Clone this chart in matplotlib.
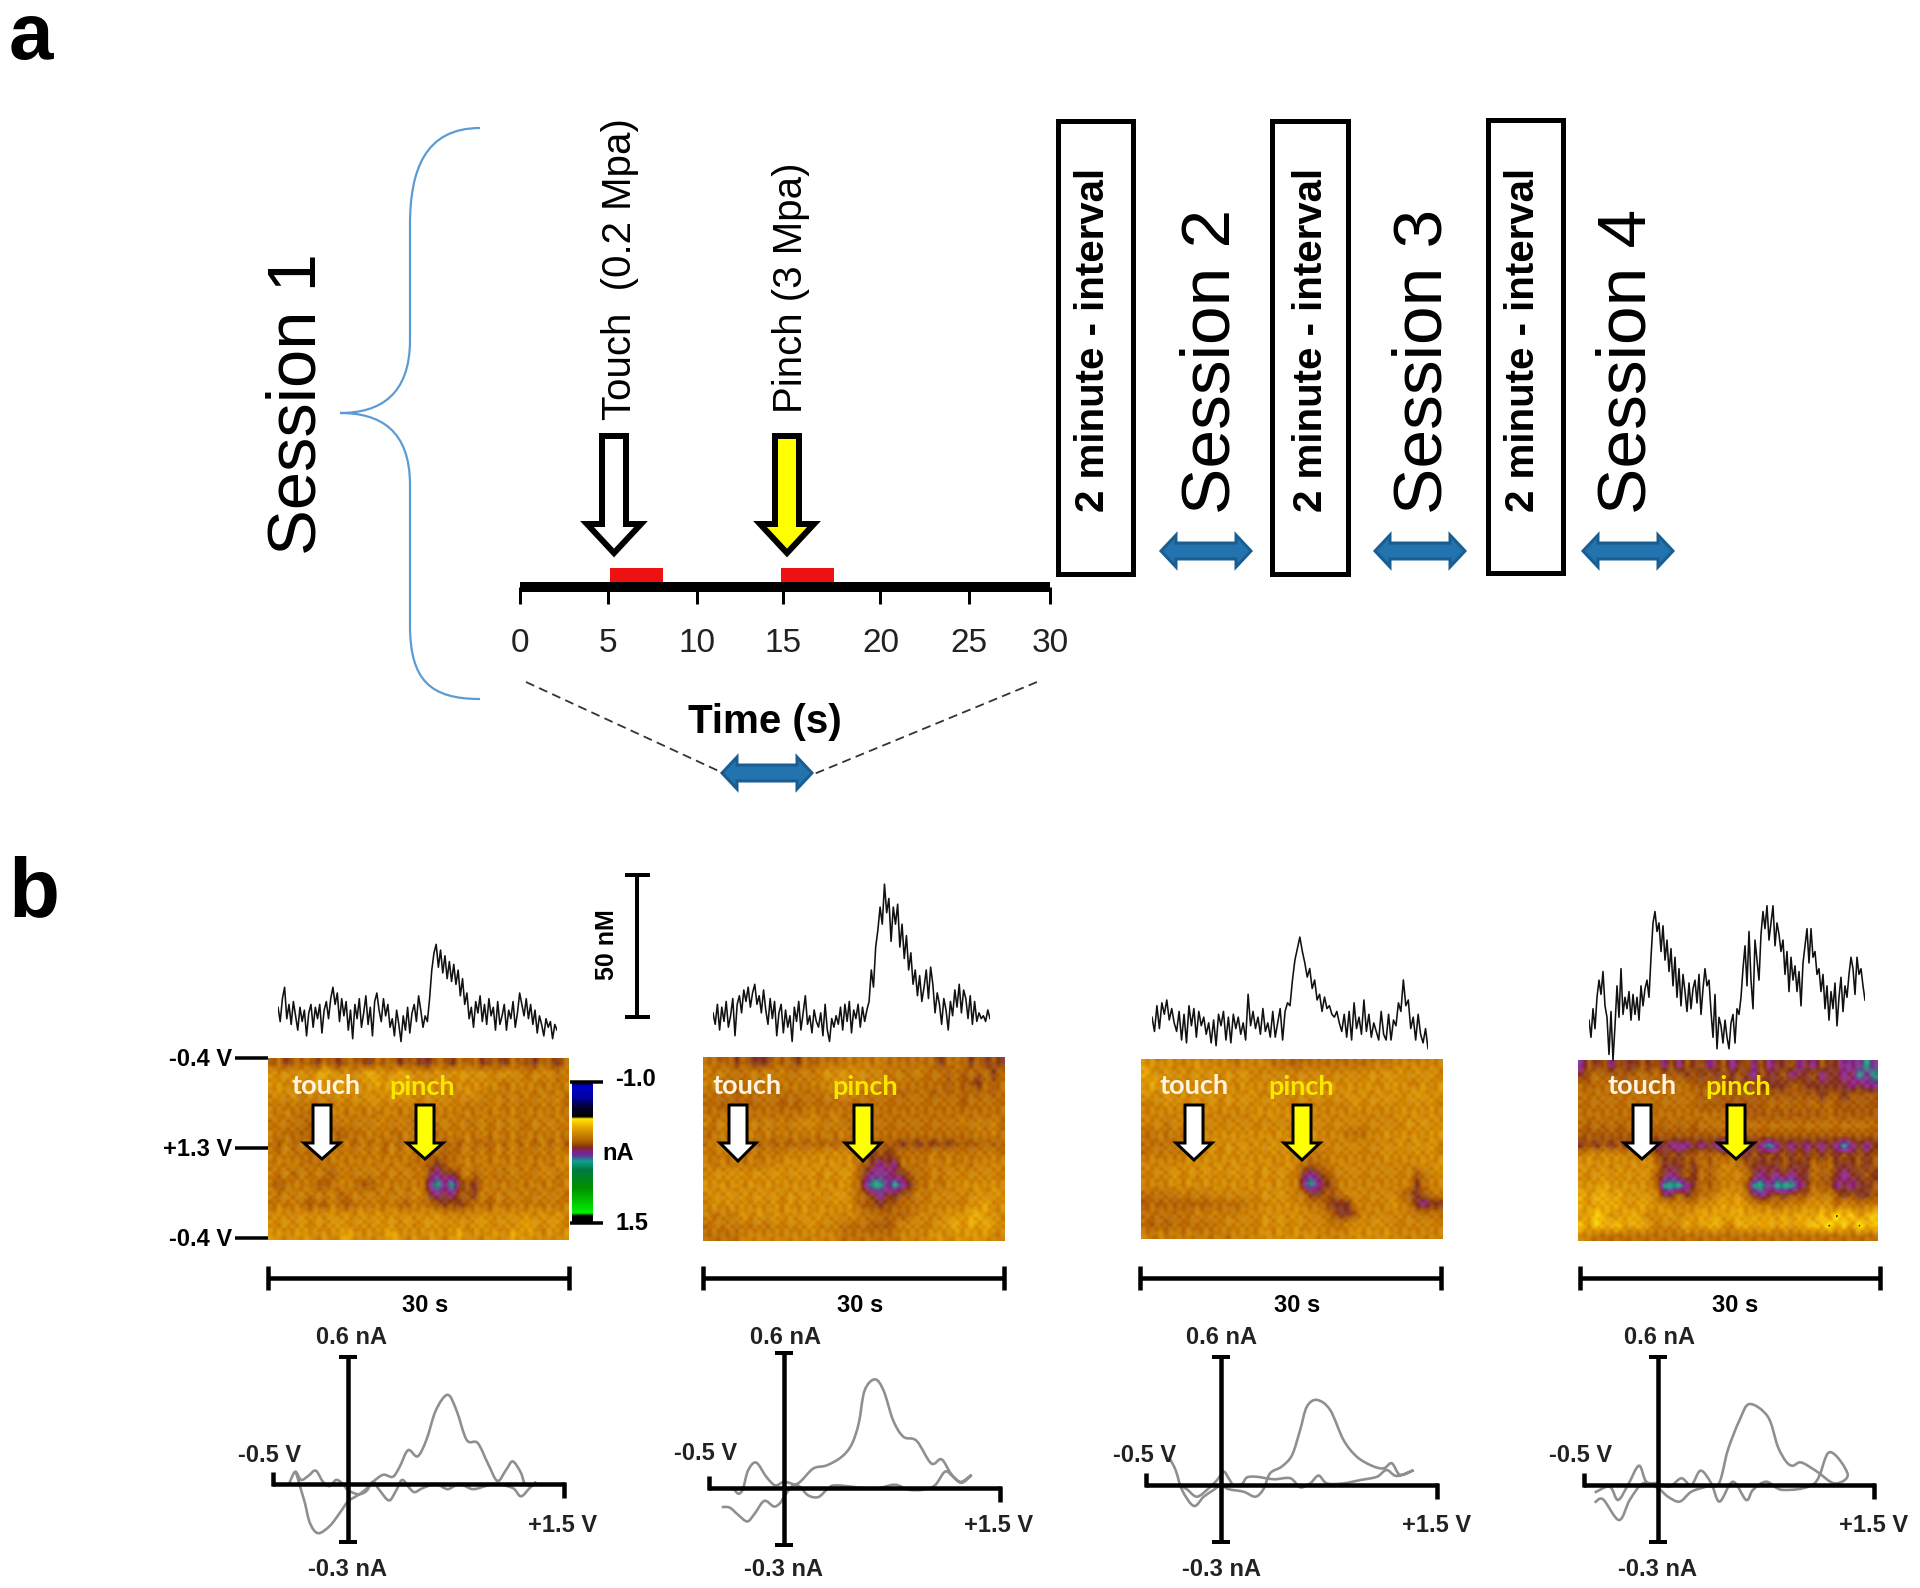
import numpy as np
import matplotlib
matplotlib.use("Agg")
import matplotlib.pyplot as plt
from matplotlib.colors import LinearSegmentedColormap, Normalize
from matplotlib.path import Path
from matplotlib.patches import PathPatch, Polygon, Rectangle

plt.rcParams['font.family'] = ['Liberation Sans', 'DejaVu Sans']

# ---------------- DATA ----------------
time_ticks = [0, 5, 10, 14.9, 20.4, 25.4, 30]
time_labels = ['0', '5', '10', '15', '20', '25', '30']
stim_start = [5.1, 14.8]
stim_length = [3.0, 2.95]

trace1 = [2,-3,5,9,-2,3,-4,4,-1,-6,2,-3,1,-8,0,3,-5,2,-2,3,-7,1,4,-2,5,9,3,7,-3,5,-1,4,-6,1,-9,3,-2,5,-5,0,6,-4,2,-8,4,7,1,-3,5,-1,3,-5,-2,-8,1,-4,-10,-1,-6,2,-7,0,3,-3,6,1,-5,-1,-3,
          5,15,21,24,16,22,14,20,12,18,11,17,10,15,6,12,3,7,-2,2,-5,4,0,6,-3,3,-4,5,-1,2,-6,4,-4,-1,3,-6,1,-2,4,-5,0,7,3,-1,5,-2,3,-4,1,-7,-1,-4,-8,-2,-5,-3,-9,-4,-6]
trace2 = [-1,-5,2,-7,1,-4,3,-6,-2,4,-9,2,5,-1,7,3,8,1,6,9,2,5,-1,7,0,-5,4,-3,3,-9,-1,2,-8,0,-6,-2,-11,1,-4,3,-7,-1,5,-5,-2,-8,0,-4,-6,-1,-9,2,-7,-11,-3,-6,-2,-5,1,-7,2,-4,3,-8,0,-3,2,-6,1,-4,0,
          3,14,8,22,28,36,30,44,34,39,24,36,30,37,22,30,18,26,14,20,9,14,5,12,3,8,14,4,15,9,-1,6,2,-5,4,0,-7,3,-2,7,1,9,-1,7,4,-3,5,-5,3,-4,-1,-3,-2,-4,0,-3]
trace3 = [1,-4,5,-3,6,2,7,0,4,-1,-4,3,-7,2,-8,5,-2,4,-6,3,-2,1,-5,-1,-8,0,-9,2,-2,3,-7,1,-8,2,-3,1,-5,-1,-7,9,-2,3,-3,1,-5,4,-4,-1,-6,3,-6,-1,4,-7,
          3,6,5,14,21,25,29,24,20,15,18,11,14,7,9,3,8,4,5,2,1,3,-1,-4,2,-6,3,-7,6,-3,1,-5,7,-4,2,-6,-1,-4,-7,3,-5,-7,2,-7,0,-2,6,3,14,5,7,-3,1,-7,2,-5,-8,-3,-10]
trace4 = [-6,-12,-2,-9,2,8,3,11,-1,-5,-18,-3,-20,-8,6,-5,12,-4,2,-2,4,-6,3,-4,2,-6,6,-1,5,8,2,16,28,32,25,28,18,27,15,22,11,19,6,16,2,12,-1,10,4,-3,7,-2,5,8,0,10,-4,5,12,6,8,-3,-12,3,-16,-5,-8,-14,-6,-12,-16,-7,-4,-14,-2,-4,2,
          12,20,6,25,8,-2,22,15,8,24,32,26,34,22,28,34,20,28,24,18,22,10,18,4,16,8,13,4,11,-1,14,20,26,14,26,16,18,10,12,4,10,-2,6,-6,4,-2,7,-8,2,9,-3,6,2,10,16,12,3,16,10,12,6,1]

cv1_v = [-.40,-.36,-.32,-.27,-.22,-.17,-.125,-.08,-.035,0,.07,.125,.17,.215,.28,.33,.37,.42,.455,.51,.60,.68,.76,.85,.94,1.01,1.125,1.18,1.24,1.285,1.25,1.205,1.18,1.125,1.08,1.02,.955,.885,.81,.74,.68,.60,.535,.475,.41,.35,.305,.24,.17,.115,.055,0,-.055,-.125,-.205,-.26,-.295,-.32,-.35,-.36]
cv1_i = [.005,.06,.02,.04,.065,.01,-.01,.02,0,-.03,-.05,-.035,.01,-.03,-.08,-.03,.02,-.02,-.04,-.02,0,-.025,0,-.025,-.01,0,-.02,-.06,-.02,.01,-.01,.005,.055,.11,.07,.015,.10,.20,.215,.36,.435,.36,.215,.135,.165,.08,.035,.045,.01,-.03,-.06,-.085,-.14,-.205,-.24,-.19,-.09,-.03,.045,.06]
cv2_v = [-.425,-.37,-.31,-.25,-.2,-.135,-.07,-.03,0,.05,.11,.2,.29,.39,.46,.51,.55,.62,.68,.745,.815,.905,1.005,1.075,1.14,1.21,1.28,1.21,1.155,1.10,1.03,.95,.85,.755,.61,.36,.30,.235,.165,.11,.065,0,-.06,-.12,-.19,-.245,-.28,-.31,-.345]
cv2_i = [-.093,-.096,-.133,-.163,-.125,-.063,-.09,-.076,-.044,.005,.03,.095,.11,.15,.21,.315,.475,.53,.475,.33,.25,.23,.12,.14,.07,.025,.065,.03,.055,.08,.013,-.008,-.008,.016,-.003,.013,-.003,-.044,-.036,.005,.018,.03,.013,.054,.124,.086,-.003,-.028,-.003]
cv3_v = [-.357,-.31,-.266,-.186,-.118,-.05,0,.05,.155,.235,.29,.335,.415,.485,.54,.586,.655,.745,.836,.927,1.03,1.11,1.166,1.223,1.314,1.2,1.13,1.064,.95,.836,.723,.666,.609,.54,.473,.36,.245,.177,.143,.086,.052,.018,-.027,-.084,-.164,-.232,-.266]
cv3_i = [.138,.073,-.024,-.102,-.057,-.024,0,-.02,-.033,-.057,-.02,.057,.09,.146,.268,.382,.415,.366,.22,.138,.094,.081,.106,.049,.073,.044,.073,.04,.024,.008,.008,.046,.008,-.011,.033,.028,.04,.037,.005,0,.033,.065,.024,-.016,-.057,-.021,-.008]
cv4_v = [-.432,-.375,-.266,-.193,-.102,0,.068,.148,.227,.33,.416,.477,.557,.625,.75,.818,.875,.92,.977,1.08,1.205,1.295,1.17,1.068,.852,.739,.648,.602,.511,.42,.364,.291,.227,.159,.08,0,-.08,-.13,-.205,-.273,-.33,-.432]
cv4_i = [-.086,-.07,-.171,-.073,.008,-.016,-.057,-.081,-.033,-.008,.008,.171,.317,.395,.333,.187,.114,.094,.11,.068,.008,.052,.16,.008,-.024,.016,-.024,-.073,.016,-.081,.008,.07,0,.033,-.008,.008,.016,.094,0,-.073,-.008,-.037]

# one digit per colour-plot cell; level_nA gives the current of each digit
level_nA = [-0.41, -0.32, -0.22, -0.13, -0.07, 0.0, 0.07, 0.16, 0.25, 0.42]
plot1 = ["6575657567566756576677567565766756675675",
         "3434343234343233423434343334344344544454",
         "3343432342343323232334334343434544445454",
         "4343534443434343333443444434454545454545",
         "4454545454444434444444444454544545454545",
         "4545554544545454454545454545454545454545",
         "5455565655454544545554545455454545545454",
         "4555655556555454554555554545454545454545",
         "5646465646464646464656465646564646464646",
         "4545555545454545454556565545454545454544",
         "5454555554545454545556765545454545454544",
         "4546454565454545454547877646545545454454",
         "5654546654456654545458989767545454545454",
         "4545454546545454545447878667454545454545",
         "5454565645654545456455676765564554545454",
         "4344343434343434343434344444343434343434",
         "3434343433343433343433343343334343234334",
         "3343334343234343234343343243433423334343"]
plot2 = ["5565757775657565555454545555555755575767",
         "4545554545455454343434445455455565656575",
         "4455554545454544433434444545555565667565",
         "5555655555555555454445555565556565656565",
         "5565656555656555555555555555555555655555",
         "5555555555555545545555555555555555555555",
         "4545454545454444545555555555555555454545",
         "5545454545454545454555555555555555554545",
         "5455565656565656565656666676767676666565",
         "4545454545444443434355767655554545454545",
         "4545454544434343434356787855554545454444",
         "4343434343343434343357888776554544444444",
         "3434343434343434343458998987554544343434",
         "4343434343434343433456787766454444443433",
         "4343434343434343434356676655544444433243",
         "4545434343434343444445556565444433322334",
         "5454545454444434445555666544444332323233",
         "5555544444444444445555555544443343333344"]
plot3 = ["3343444344445444455565555555555454444444",
         "2343434343434344444444444444443434343434",
         "3233434343434343434343434343433433344343",
         "3343434343434434444443434343434343433343",
         "4443434343434343434444444444343434343434",
         "4444444444444443434344444444444444343434",
         "4445444444444444444444444444444444434343",
         "5545455544343434343434344445554434343433",
         "5555555443434343434343444444444444343434",
         "5454544343434343434344454444444434343434",
         "4444443434343434344345655444444444444343",
         "4444343434343434343447876544444444446543",
         "4444343434343434343448987644444444447544",
         "5555545454444444343445776654444444567654",
         "6565656565555544434344556777444443457877",
         "5555555454545444343434445677644444445555",
         "5656555555444444343434444554434344444444",
         "4545454545454444343434344444343434444444"]
plot4 = ["8676867767686867687687686877687867788898",
         "7656666656566676767676786776877687787989",
         "5655556555555556666676767777667777778788",
         "5555555555555555656666666666666676676666",
         "5555555555555555666666666565656565666666",
         "5555555555555555555555666666666665666666",
         "5656565656565656555555555555555555555555",
         "6666666666666666666666666666666666666666",
         "7676767677878887878987878987878787898787",
         "4343434434676766565656767676767676767676",
         "3343434343577767565445677776777565777676",
         "3433433434678767565444578787877566787767",
         "3332333334599987565444699899987566878776",
         "2322323333477576554333578767666454676776",
         "2322223323334444333232344454443333534544",
         "3212332234433433232322323232322313021321",
         "1312213223444423322342232232322120213021",
         "4455555555555555555555555555555555555555"]

# fine weave of the scan lines, drawn faintly over each colour plot
weave = [[ 1, -1,  1, -1,  0, -1,  1, -1],
         [ 0, -1,  1,  0,  1, -1,  1,  0],
         [ 1,  0,  0, -1,  1,  0,  0, -1],
         [-1,  1, -1,  1, -1,  1,  0,  1],
         [ 1, -1,  0,  1,  1, -1,  1,  0],
         [-1,  0, -1,  1, -1,  1, -1,  1]]

# ---------------- LAYOUT ----------------
fig = plt.figure(figsize=(19.2, 15.88), dpi=100, facecolor='white')
W, H = 1920.0, 1588.0


def px_axes(left, top, right, bottom, **kw):
    a = fig.add_axes([left / W, 1 - bottom / H, (right - left) / W, (bottom - top) / H], **kw)
    a.patch.set_alpha(0)
    return a


ov = fig.add_axes([0, 0, 1, 1], zorder=20)
ov.set_xlim(0, W)
ov.set_ylim(H, 0)
ov.axis('off')
ov.patch.set_alpha(0)

PX = 0.72  # points per pixel at dpi 100


def label(x, y, s, size, weight='normal', rot=0, color='black', family=None, **kw):
    ov.text(x, y, s, fontsize=size, fontweight=weight, rotation=rot, color=color,
            ha='center', va='center', family=family or ['Liberation Sans', 'DejaVu Sans'], **kw)


def line(xs, ys, lw_px, color='black', **kw):
    ov.plot(xs, ys, color=color, lw=lw_px * PX, solid_capstyle='butt', **kw)


def down_arrow(cx, top, neck, tip, half_shaft, half_head, face, lw_px):
    pts = [(cx - half_shaft, top), (cx + half_shaft, top), (cx + half_shaft, neck), (cx + half_head, neck),
           (cx, tip), (cx - half_head, neck), (cx - half_shaft, neck)]
    ov.add_patch(Polygon(pts, closed=True, facecolor=face, edgecolor='black', lw=lw_px * PX, joinstyle='miter'))


def double_arrow(cx, cy, half_w=45, half_h=16):
    neck = half_w - 15
    s = 8
    pts = [(cx - half_w, cy), (cx - neck, cy - half_h), (cx - neck, cy - s), (cx + neck, cy - s),
           (cx + neck, cy - half_h), (cx + half_w, cy), (cx + neck, cy + half_h), (cx + neck, cy + s),
           (cx - neck, cy + s), (cx - neck, cy + half_h)]
    ov.add_patch(Polygon(pts, closed=True, facecolor='#2273ae', edgecolor='#1a5d90', lw=3 * PX, joinstyle='miter'))


# ---------------- PANEL a ----------------
ov.text(9, 59, 'a', fontsize=57.5, fontweight='bold', ha='left', va='baseline')
ov.text(8, 916, 'b', fontsize=60, fontweight='bold', ha='left', va='baseline')

brace = Path([(480, 128), (425, 128), (410, 170), (410, 225), (410, 340), (410, 395), (380, 413), (340, 413),
              (380, 413), (410, 430), (410, 485), (410, 625), (410, 680), (430, 699), (480, 699)],
             [Path.MOVETO, Path.CURVE4, Path.CURVE4, Path.CURVE4, Path.LINETO, Path.CURVE4, Path.CURVE4, Path.CURVE4,
              Path.CURVE4, Path.CURVE4, Path.CURVE4, Path.LINETO, Path.CURVE4, Path.CURVE4, Path.CURVE4])
ov.add_patch(PathPatch(brace, facecolor='none', edgecolor='#5b9bd5', lw=2.2 * PX))

label(298, 404, 'Session 1', 49.5, rot=90)
label(1212, 361, 'Session 2', 50, rot=90)
label(1424, 361, 'Session 3', 50, rot=90)
label(1628, 361, 'Session 4', 50, rot=90)

for (x0, x1, y0, y1, tx) in [(1058, 1133, 121, 574, 1093), (1272, 1348, 121, 574, 1311), (1488, 1563, 120, 573, 1523)]:
    ov.add_patch(Rectangle((x0, y0), x1 - x0, y1 - y0, facecolor='white', edgecolor='black', lw=5 * PX, joinstyle='miter'))
    label(tx, 340, '2 minute - interval', 29, 'bold', rot=90)

for c in [(1206, 551), (1420, 551), (1628, 551), (767, 773)]:
    double_arrow(*c)

label(620, 269, 'Touch  (0.2 Mpa)', 29, rot=90)
label(791, 288, 'Pinch (3 Mpa)', 29, rot=90)
down_arrow(614, 436, 524, 553, 12, 27, 'white', 6)
down_arrow(787, 436, 524, 553, 12, 27, '#ffff00', 6)

axt = px_axes(520, 562, 1050, 587)
axt.set_xlim(0, 30)
axt.set_ylim(0, 1)
axt.bar(stim_start, [0.76, 0.76], width=stim_length, bottom=0, align='edge', color='#ee1111', zorder=1)
for sp in ['top', 'left', 'right']:
    axt.spines[sp].set_visible(False)
axt.spines['bottom'].set_linewidth(10 * PX)
axt.spines['bottom'].set_capstyle('butt')
axt.spines['bottom'].set_zorder(3)
axt.set_yticks([])
axt.set_xticks(time_ticks)
axt.set_xticklabels(time_labels, fontsize=24, color='#222222')
axt.tick_params(axis='x', length=13 * PX + 3, width=3 * PX, pad=17, direction='out')
for tick, col in zip(axt.xaxis.get_major_ticks(), ['black', '#5b9bd5', 'black', 'black', 'black', '#5b9bd5', 'black']):
    tick.tick1line.set_color(col)

label(765, 722, 'Time (s)', 29, 'bold')
ov.plot([526, 723], [682, 773], color='#333333', lw=1.8 * PX, ls=(0, (5, 3)))
ov.plot([1037, 814], [682, 774], color='#333333', lw=1.8 * PX, ls=(0, (5, 3)))

# ---------------- PANEL b ----------------
fscv = LinearSegmentedColormap.from_list('fscv', [
    (0.00, '#000030'), (0.02, '#0000c8'), (0.10, '#0000a8'), (0.17, '#000030'), (0.24, '#000000'),
    (0.255, '#ffe800'), (0.30, '#f0b400'), (0.36, '#d08800'), (0.42, '#ac5c00'), (0.46, '#7c3018'),
    (0.49, '#8a1a90'), (0.52, '#5a3a98'), (0.56, '#10a090'), (0.62, '#007a40'), (0.75, '#009000'),
    (0.93, '#00f000'), (0.95, '#000000'), (1.00, '#000000')])
nanoamp = Normalize(-1.0, 1.5)

plots = [plot1, plot2, plot3, plot4]
plot_boxes = [(268, 1058, 569, 1240), (703, 1057, 1005, 1241), (1141, 1059, 1443, 1239), (1578, 1060, 1878, 1241)]
fine = np.tile(np.array(weave, dtype=float), (8, 9))[:45, :67]
for rows, (l, t, r, b) in zip(plots, plot_boxes):
    arr = np.array([[level_nA[int(c)] for c in row[:40].ljust(40, '4')] for row in rows])
    a = px_axes(l, t, r, b)
    a.imshow(arr, cmap=fscv, norm=nanoamp, aspect='auto', interpolation='bilinear',
             extent=(0, 1, 0, 1))
    a.imshow(fine, cmap='YlOrBr_r', vmin=-1, vmax=1, alpha=0.12, aspect='auto', interpolation='bilinear',
             extent=(0, 1, 0, 1))
    a.axis('off')

traces = [trace1, trace2, trace3, trace4]
trace_boxes = [(278, 557, 1013), (713, 990, 1010), (1152, 1428, 1020), (1589, 1865, 1003)]
PX_PER_NM = 2.86
for tr, (l, r, base) in zip(traces, trace_boxes):
    top, bottom = base - 140, base + 70
    a = px_axes(l, top, r, bottom)
    a.plot(np.linspace(0, 30, len(tr)), tr, color='#111111', lw=1.6 * PX)
    a.set_xlim(0, 30)
    a.set_ylim(-70 / PX_PER_NM, 140 / PX_PER_NM)
    a.axis('off')

# 50 nM bar
line([637, 637], [874, 1017], 4)
line([625, 650], [875, 875], 4)
line([625, 650], [1017, 1017], 4)
label(607, 945, '50 nM', 18, 'bold', rot=90)

# potential ticks
for y, s in [(1058, '-0.4 V'), (1148, '+1.3 V'), (1238, '-0.4 V')]:
    line([235, 268], [y, y], 3.5)
    ov.text(232, y + 1, s, fontsize=17, fontweight='bold', ha='right', va='center')

# colour bar
axc = px_axes(572, 1083, 593, 1223)
axc.imshow(np.linspace(-1.0, 1.5, 256)[:, None], cmap=fscv, norm=nanoamp, aspect='auto')
axc.axis('off')
line([570, 603], [1082, 1082], 3.5)
line([570, 603], [1223, 1223], 3.5)
label(635, 1080, '-1.0', 17, 'bold')
label(632, 1223, '1.5', 17, 'bold')
label(618, 1154, 'nA', 17, 'bold')

# touch / pinch marks
marks = [(326, 422, 322, 425, 1159), (747, 865, 738, 863, 1161), (1194, 1301, 1194, 1302, 1160), (1642, 1738, 1642, 1736, 1159)]
for tx, px_, ax_w, ax_y, tip in marks:
    ov.text(tx, 1086, 'touch', fontsize=19.5, fontweight='bold', family='Lato', color='#fff4e0', ha='center', va='center')
    ov.text(px_, 1087, 'pinch', fontsize=19.5, fontweight='bold', family='Lato', color='#f8e800', ha='center', va='center')
    down_arrow(ax_w, 1105, 1143, tip, 9, 18, 'white', 3)
    down_arrow(ax_y, 1105, 1143, tip, 9, 18, '#ffff00', 3)

# 30 s bars
for x0, x1, tx in [(268, 569, 425), (703, 1004, 860), (1140, 1441, 1297), (1580, 1880, 1735)]:
    line([x0, x1], [1278, 1278], 4.5)
    line([x0, x0], [1266, 1290], 4.5)
    line([x1, x1], [1266, 1290], 4.5)
    label(tx, 1306, '30 s', 17, 'bold')

# voltammograms
PX_PER_V, PX_PER_NA = 146.5, 205.0
cvs = [(cv1_v, cv1_i), (cv2_v, cv2_i), (cv3_v, cv3_i), (cv4_v, cv4_i)]
cv_boxes = [(272, 565, 348, 1484, 1357, 1542), (708, 1001, 784, 1488, 1353, 1545),
            (1145, 1438, 1221, 1485, 1357, 1542), (1583, 1875, 1658, 1485, 1357, 1542)]
cv_labels = [((352, 1338), (270, 1455), (563, 1525), (347, 1569)),
             ((785, 1338), (706, 1454), (999, 1525), (784, 1570)),
             ((1222, 1338), (1145, 1455), (1437, 1525), (1222, 1569)),
             ((1659, 1338), (1581, 1455), (1874, 1525), (1657, 1569))]


def smooth_path(xs, ys):
    p = np.column_stack([xs, ys])
    verts = [p[0]]
    codes = [Path.MOVETO]
    for k in range(len(p) - 1):
        p0 = p[max(k - 1, 0)]
        p1, p2 = p[k], p[k + 1]
        p3 = p[min(k + 2, len(p) - 1)]
        verts += [p1 + (p2 - p0) / 6, p2 - (p3 - p1) / 6, p2]
        codes += [Path.CURVE4] * 3
    return Path(verts, codes)


for (v, i), (l, r, x0, y0, yt, yb), labs in zip(cvs, cv_boxes, cv_labels):
    a = px_axes(l, yt, r, yb)
    a.set_xlim((l - x0) / PX_PER_V, (r - x0) / PX_PER_V)
    a.set_ylim((y0 - yb) / PX_PER_NA, (y0 - yt) / PX_PER_NA)
    a.axis('off')
    a.add_patch(PathPatch(smooth_path(v, i), facecolor='none', edgecolor='#8f8f8f', lw=2.6 * PX, clip_on=False, zorder=3))
    line([l, r], [y0, y0], 4.5)
    line([l + 1, l + 1], [y0 - 12, y0 + 2], 4.5)
    line([r - 1, r - 1], [y0 - 2, y0 + 14], 4.5)
    line([x0, x0], [yt, yb], 4.5)
    line([x0 - 9, x0 + 9], [yt, yt], 4)
    line([x0 - 9, x0 + 9], [yb, yb], 4)
    for (tx, ty), s in zip(labs, ['0.6 nA', '-0.5 V', '+1.5 V', '-0.3 nA']):
        label(tx, ty, s, 17, 'bold', color='#222222')

fig.savefig('out.png', dpi=100, facecolor='white')
